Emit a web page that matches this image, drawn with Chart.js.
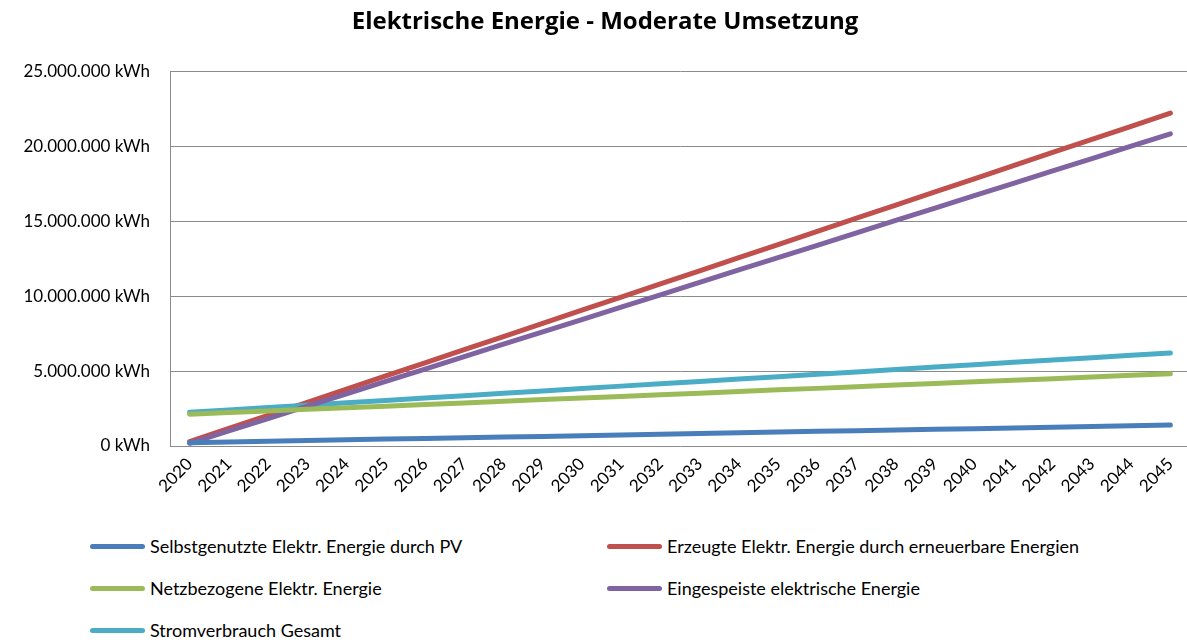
<!DOCTYPE html>
<html>
<head>
<meta charset="utf-8">
<script src="https://cdn.jsdelivr.net/npm/chart.js@4/dist/chart.umd.min.js"></script>
<style>
  html, body { margin: 0; padding: 0; background: #fff; overflow: hidden; }
  #wrap { position: relative; width: 1187px; height: 642px; overflow: hidden; }
  #chart { position: absolute; left: 0; top: 0; }
  .leg { position: absolute; font-family: Lato, sans-serif; font-size: 18px; color: #000; white-space: nowrap; }
  .leg span.sw { position: absolute; left: 0; top: 50%; width: 55px; height: 5px; margin-top: -2px; border-radius: 3px; }
  .leg span.tx { position: absolute; left: 60px; top: 50%; transform: translateY(-50%); }
</style>
</head>
<body>
<div id="wrap">
  <canvas id="chart" width="1210" height="520"></canvas>
</div>
<script>
var years = ["2020", "2021", "2022", "2023", "2024", "2025", "2026", "2027", "2028", "2029", "2030", "2031", "2032",
             "2033", "2034", "2035", "2036", "2037", "2038", "2039", "2040", "2041", "2042", "2043", "2044", "2045"];

// values in kWh
var selbstPV = [220000, 270000, 310000, 360000, 410000, 460000, 500000, 550000, 600000, 640000, 690000, 740000, 790000,
                830000, 880000, 930000, 980000, 1020000, 1070000, 1120000, 1160000, 1210000, 1260000, 1310000, 1350000, 1400000];
var erzeugt = [290000, 1170000, 2050000, 2920000, 3800000, 4680000, 5560000, 6440000, 7310000, 8190000, 9070000, 9950000, 10830000,
               11700000, 12580000, 13460000, 14340000, 15220000, 16090000, 16970000, 17850000, 18730000, 19610000, 20480000, 21360000, 22240000];
var netz = [2120000, 2230000, 2340000, 2450000, 2550000, 2660000, 2770000, 2880000, 2990000, 3100000, 3200000, 3310000, 3420000,
            3530000, 3640000, 3750000, 3850000, 3960000, 4070000, 4180000, 4290000, 4400000, 4500000, 4610000, 4720000, 4830000];
var eingespeist = [180000, 1010000, 1830000, 2660000, 3490000, 4320000, 5140000, 5970000, 6800000, 7620000, 8450000, 9280000, 10100000,
                   10930000, 11760000, 12590000, 13410000, 14240000, 15070000, 15890000, 16720000, 17550000, 18380000, 19200000, 20030000, 20860000];
var gesamt = [2250000, 2410000, 2570000, 2730000, 2890000, 3040000, 3200000, 3360000, 3520000, 3680000, 3840000, 4000000, 4160000,
              4310000, 4470000, 4630000, 4790000, 4950000, 5110000, 5270000, 5430000, 5590000, 5740000, 5900000, 6060000, 6220000];

var names = ["Selbstgenutzte Elektr. Energie durch PV", "Erzeugte Elektr. Energie durch erneuerbare Energien",
             "Netzbezogene Elektr. Energie", "Eingespeiste elektrische Energie", "Stromverbrauch Gesamt"];
var colors = ["#4a7ebb", "#c0504d", "#9bbb59", "#8064a2", "#4bacc6"];
var series = [selbstPV, erzeugt, netz, eingespeist, gesamt];

function fmt(v) {
  return String(v).replace(/\B(?=(\d{3})+(?!\d))/g, ".") + " kWh";
}

var datasets = [];
for (var i = 0; i < series.length; i++) {
  datasets.push({
    label: names[i],
    data: series[i],
    borderColor: colors[i],
    backgroundColor: colors[i],
    borderWidth: 5,
    borderCapStyle: 'round',
    borderJoinStyle: 'round',
    pointRadius: 0,
    tension: 0,
    fill: false
  });
}
// red and purple drawn over the others
datasets[1].order = 1;
datasets[3].order = 0;

Chart.defaults.font.family = "Lato, sans-serif";
Chart.defaults.color = "#000";

var ctx = document.getElementById('chart').getContext('2d');
var myChart = new Chart(ctx, {
  type: 'line',
  data: { labels: years, datasets: datasets },
  options: {
    responsive: false,
    animation: false,
    devicePixelRatio: 1,
    layout: { padding: { left: 20, right: 20, top: 0, bottom: 0 } },
    plugins: {
      legend: { display: false },
      tooltip: { enabled: false },
      title: {
        display: true,
        text: "Elektrische Energie - Moderate Umsetzung",
        color: "#000",
        font: { family: "'Open Sans', sans-serif", size: 24, weight: 'bold' },
        padding: { top: 8, bottom: 35 }
      }
    },
    scales: {
      x: {
        offset: true,
        grid: { display: false, drawTicks: false },
        border: { display: false },
        ticks: { font: { size: 17 }, maxRotation: 45, minRotation: 45, autoSkip: false, padding: 8 },
        afterFit: function (axis) { axis.height = 74; }
      },
      y: {
        min: 0,
        max: 25000000,
        grid: { color: "#8a8a8a", lineWidth: 1, drawTicks: false },
        border: { display: true, color: "#8a8a8a", width: 1 },
        ticks: { stepSize: 5000000, font: { size: 17 }, padding: 20, callback: function (v) { return fmt(v); } },
        afterFit: function (axis) { axis.width = 150; }
      }
    }
  }
});

// legend in two columns like the original
var legPos = [[90, 546], [607, 546], [90, 588], [607, 588], [90, 630]];
var wrap = document.getElementById('wrap');
for (var i = 0; i < names.length; i++) {
  var d = document.createElement('div');
  d.className = 'leg';
  d.style.left = legPos[i][0] + 'px';
  d.style.top = (legPos[i][1] - 12) + 'px';
  d.style.height = '24px';
  d.style.width = '560px';
  d.innerHTML = '<span class="sw" style="background:' + colors[i] + '"></span><span class="tx">' + names[i] + '</span>';
  wrap.appendChild(d);
}
</script>
</body>
</html>
